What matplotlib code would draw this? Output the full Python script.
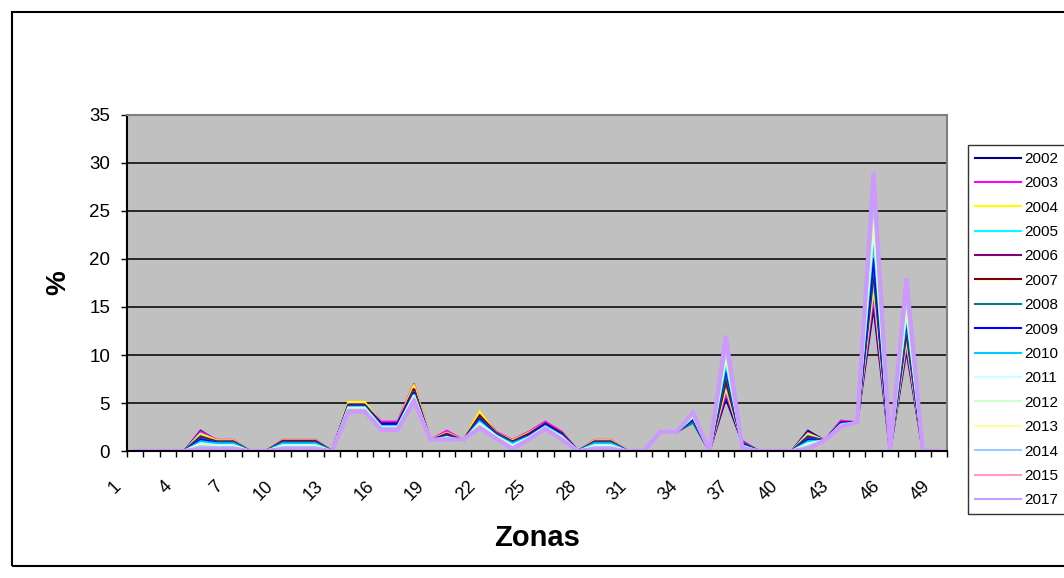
import matplotlib
matplotlib.use("Agg")
import matplotlib.pyplot as plt
from matplotlib.patches import Rectangle

plt.rcParams['font.family'] = ['Liberation Sans', 'DejaVu Sans']

zonas = list(range(1, 51))
tick_zonas = list(range(1, 50, 3))

years = ['2002', '2003', '2004', '2005', '2006', '2007', '2008', '2009',
         '2010', '2011', '2012', '2013', '2014', '2015', '2017']
colors = ['#000080', '#FF00FF', '#FFFF00', '#00FFFF', '#800080', '#800000',
          '#008080', '#0000FF', '#00CCFF', '#CCFFFF', '#CCFFCC', '#FFFF99',
          '#99CCFF', '#FF99CC', '#CC99FF']

# percentage per zone, one list per year
v2002 = [0, 0, 0, 0, 2.1, 1.05, 1.0, 0, 0, 1.0, 1.0, 1.0, 0, 4.9, 4.9, 2.8, 2.8, 6.6, 1.1, 1.8,
         1.1, 3.8, 1.9, 1.05, 1.8, 2.8, 1.9, 0, 1.05, 1.0, 0, 0, 2.0, 2.0, 3.0, 0, 5.5, 0.9, 0, 0,
         0, 2.1, 1.1, 2.9, 3.0, 15.0, 0, 10.5, 0, 0]
v2003 = [0, 0, 0, 0, 2.0, 1.15, 1.15, 0, 0, 1.15, 1.15, 1.15, 0, 4.9, 4.9, 3.05, 3.05, 7.0, 1.15, 2.1,
         1.15, 4.0, 2.0, 1.15, 2.0, 3.05, 2.0, 0, 1.15, 1.15, 0, 0, 2.0, 2.0, 3.1, 0, 6.0, 1.05, 0, 0,
         0, 1.9, 1.1, 3.15, 3.0, 16.0, 0, 11.0, 0, 0]
v2004 = [0, 0, 0, 0, 1.8, 1.1, 1.1, 0, 0, 1.1, 1.1, 1.1, 0, 5.1, 5.1, 2.9, 2.9, 6.9, 1.15, 1.9,
         1.15, 4.1, 1.9, 1.1, 1.9, 2.9, 1.9, 0, 1.1, 1.1, 0, 0, 2.0, 2.0, 3.1, 0, 6.5, 0.9, 0, 0,
         0, 1.8, 1.1, 3.0, 3.0, 17.0, 0, 11.5, 0, 0]
v2005 = [0, 0, 0, 0, 1.6, 0.9, 0.9, 0, 0, 0.9, 0.9, 0.9, 0, 4.8, 4.8, 2.7, 2.7, 6.2, 1.1, 1.7,
         1.1, 3.5, 1.8, 0.9, 1.7, 2.7, 1.8, 0, 0.9, 0.9, 0, 0, 2.0, 2.0, 3.3, 0, 7.0, 0.8, 0, 0,
         0, 1.6, 1.1, 2.9, 3.0, 18.0, 0, 12.0, 0, 0]
v2006 = [0, 0, 0, 0, 1.5, 1.0, 1.0, 0, 0, 1.05, 1.05, 1.05, 0, 4.8, 4.8, 2.9, 2.9, 6.5, 1.1, 1.8,
         1.1, 3.7, 1.9, 1.0, 1.8, 2.9, 1.9, 0, 1.0, 1.0, 0, 0, 2.0, 2.0, 3.1, 0, 7.2, 0.9, 0, 0,
         0, 1.5, 1.1, 3.0, 3.0, 18.5, 0, 12.3, 0, 0]
v2007 = [0, 0, 0, 0, 1.4, 0.95, 0.95, 0, 0, 1.0, 1.0, 1.0, 0, 4.8, 4.8, 2.8, 2.8, 6.4, 1.1, 1.7,
         1.1, 3.6, 1.8, 0.95, 1.7, 2.8, 1.8, 0, 0.95, 0.95, 0, 0, 2.0, 2.0, 3.1, 0, 7.5, 0.85, 0, 0,
         0, 1.4, 1.1, 2.9, 3.0, 19.0, 0, 12.6, 0, 0]
v2008 = [0, 0, 0, 0, 1.3, 0.9, 0.9, 0, 0, 0.9, 0.9, 0.9, 0, 4.7, 4.7, 2.7, 2.7, 6.2, 1.1, 1.6,
         1.1, 3.4, 1.8, 0.9, 1.6, 2.7, 1.7, 0, 0.9, 0.9, 0, 0, 2.0, 2.0, 3.0, 0, 8.0, 0.8, 0, 0,
         0, 1.3, 1.1, 2.8, 3.0, 19.5, 0, 13.0, 0, 0]
v2009 = [0, 0, 0, 0, 1.2, 0.85, 0.85, 0, 0, 0.85, 0.85, 0.85, 0, 4.7, 4.7, 2.8, 2.8, 6.1, 1.1, 1.6,
         1.1, 3.3, 1.7, 0.85, 1.6, 2.8, 1.7, 0, 0.85, 0.85, 0, 0, 2.0, 2.0, 3.3, 0, 8.5, 0.7, 0, 0,
         0, 1.2, 1.1, 2.9, 3.0, 20.0, 0, 13.5, 0, 0]
v2010 = [0, 0, 0, 0, 1.0, 0.8, 0.8, 0, 0, 0.8, 0.8, 0.8, 0, 4.6, 4.6, 2.6, 2.6, 5.9, 1.1, 1.5,
         1.1, 3.1, 1.6, 0.8, 1.5, 2.6, 1.6, 0, 0.8, 0.8, 0, 0, 2.0, 2.0, 3.5, 0, 9.0, 0.6, 0, 0,
         0, 1.0, 1.1, 2.8, 3.0, 22.0, 0, 14.0, 0, 0]
v2011 = [0, 0, 0, 0, 0.8, 0.6, 0.6, 0, 0, 0.6, 0.6, 0.6, 0, 4.5, 4.5, 2.5, 2.5, 5.8, 1.1, 1.4,
         1.1, 2.9, 1.6, 0.6, 1.4, 2.5, 1.5, 0, 0.6, 0.6, 0, 0, 2.0, 2.0, 3.6, 0, 9.5, 0.5, 0, 0,
         0, 0.8, 1.1, 2.7, 3.0, 23.0, 0, 14.5, 0, 0]
v2012 = [0, 0, 0, 0, 0.7, 0.5, 0.5, 0, 0, 0.5, 0.5, 0.5, 0, 4.4, 4.4, 2.5, 2.5, 5.7, 1.1, 1.4,
         1.1, 2.8, 1.5, 0.5, 1.4, 2.5, 1.4, 0, 0.5, 0.5, 0, 0, 2.0, 2.0, 3.6, 0, 10.0, 0.5, 0, 0,
         0, 0.7, 1.1, 2.7, 3.0, 24.0, 0, 15.0, 0, 0]
v2013 = [0, 0, 0, 0, 0.6, 0.45, 0.45, 0, 0, 0.45, 0.45, 0.45, 0, 4.4, 4.4, 2.4, 2.4, 5.6, 1.1, 1.3,
         1.1, 2.7, 1.5, 0.45, 1.3, 2.4, 1.4, 0, 0.45, 0.45, 0, 0, 2.0, 2.0, 3.7, 0, 10.2, 0.4, 0, 0,
         0, 0.6, 1.1, 2.6, 3.0, 25.0, 0, 15.5, 0, 0]
v2014 = [0, 0, 0, 0, 0.5, 0.4, 0.4, 0, 0, 0.4, 0.4, 0.4, 0, 4.3, 4.3, 2.4, 2.4, 5.5, 1.1, 1.3,
         1.1, 2.6, 1.4, 0.4, 1.3, 2.4, 1.3, 0, 0.4, 0.4, 0, 0, 2.0, 2.0, 3.8, 0, 10.5, 0.4, 0, 0,
         0, 0.5, 1.1, 2.6, 3.0, 26.0, 0, 16.0, 0, 0]
v2015 = [0, 0, 0, 0, 0.3, 0.3, 0.3, 0, 0, 0.3, 0.3, 0.3, 0, 4.2, 4.2, 2.3, 2.3, 5.4, 1.15, 1.2,
         1.15, 2.5, 1.4, 0.3, 1.2, 2.3, 1.3, 0, 0.3, 0.3, 0, 0, 2.0, 2.0, 3.9, 0, 11.0, 0.3, 0, 0,
         0, 0.3, 1.1, 2.6, 3.0, 27.5, 0, 16.8, 0, 0]
v2017 = [0, 0, 0, 0, 0.2, 0.2, 0.2, 0, 0, 0.2, 0.2, 0.2, 0, 4.1, 4.1, 2.2, 2.2, 5.2, 1.2, 1.2,
         1.2, 2.4, 1.3, 0.2, 1.2, 2.3, 1.2, 0, 0.2, 0.2, 0, 0, 2.0, 2.0, 4.0, 0, 12.0, 0.3, 0, 0,
         0, 0.2, 1.1, 2.5, 3.0, 29.0, 0, 18.0, 0, 0]

series = [v2002, v2003, v2004, v2005, v2006, v2007, v2008, v2009,
          v2010, v2011, v2012, v2013, v2014, v2015, v2017]

fig = plt.figure(figsize=(10.64, 5.78), dpi=100)
ax = fig.add_axes([126.7 / 1064, 1 - 451 / 578, 820.8 / 1064, 336 / 578])
ax.set_facecolor('#C0C0C0')

for yr, col, vals in zip(years, colors, series):
    lw = 3.0 if yr == '2017' else 1.6
    ax.plot(zonas, vals, color=col, lw=lw, label=yr, solid_joinstyle='miter')

ax.set_xlim(0.5, 50.5)
ax.set_ylim(0, 35)
ax.set_yticks(range(0, 36, 5))
for y in range(5, 35, 5):
    ax.axhline(y, color='black', lw=1.1, zorder=0.5)

# tick marks on category borders
ax.set_xticks([z + 0.5 for z in range(0, 51)])
ax.set_xticklabels([])
ax.tick_params(axis='x', direction='out', length=4, width=1, color='black')
ax.tick_params(axis='y', direction='out', length=4, width=1, labelsize=13.5, pad=8)

# slanted zone labels every third category, spread a little wider than the points
for i, z in enumerate(tick_zonas):
    xpos = -0.365 + (z - 1) * 1.0272
    ax.text(xpos, -0.08, str(z), transform=ax.get_xaxis_transform(),
            rotation=45, ha='right', va='top', rotation_mode='anchor',
            fontsize=13, clip_on=False)

for side in ['left', 'bottom']:
    ax.spines[side].set_color('black')
    ax.spines[side].set_linewidth(1.5)
for side in ['top', 'right']:
    ax.spines[side].set_color('#808080')
    ax.spines[side].set_linewidth(1.5)

ax.set_xlabel('Zonas', fontsize=21, fontweight='bold')
ax.xaxis.set_label_coords(0.5, -0.218)
ax.set_ylabel('%', fontsize=20, fontweight='bold', labelpad=13)

leg = ax.legend(loc='upper left', bbox_to_anchor=(968 / 1064, 1 - 145 / 578),
                bbox_transform=fig.transFigure, fontsize=11, frameon=True,
                fancybox=False, borderaxespad=0, handlelength=3.0,
                handletextpad=0.2, labelspacing=0.68, borderpad=0.45)
leg.get_frame().set_edgecolor('black')
leg.get_frame().set_linewidth(1)
for line in leg.get_lines():
    line.set_linewidth(1.5)

# outer chart border
fig.add_artist(Rectangle((12 / 1064, 12 / 578), 1.2, 1 - 24 / 578,
                         transform=fig.transFigure, fill=False,
                         edgecolor='black', lw=1.5))

fig.savefig('out.png', dpi=100, facecolor='white')
